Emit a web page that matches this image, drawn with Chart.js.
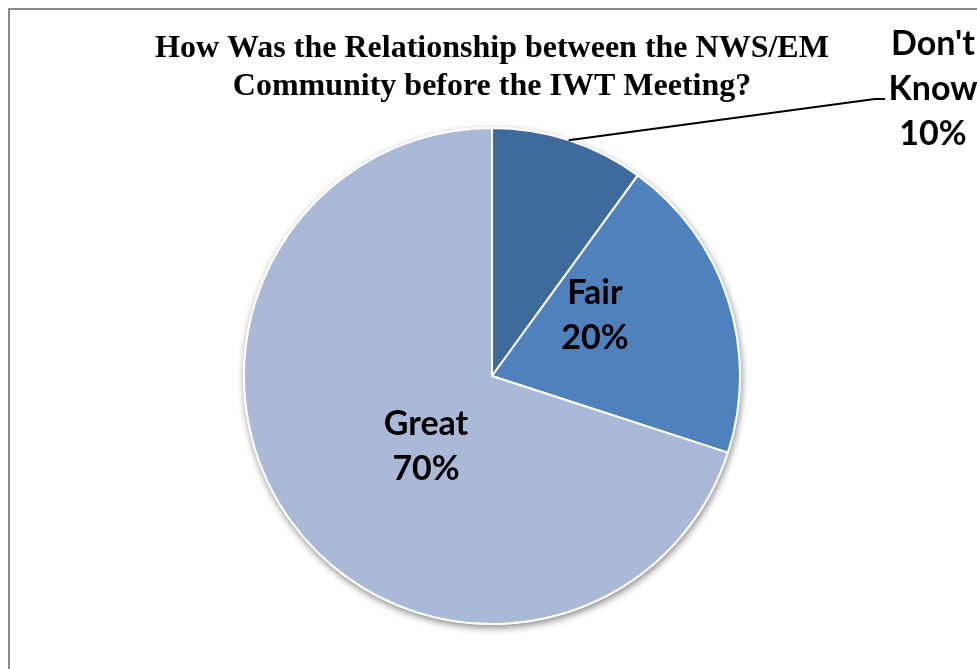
<!DOCTYPE html>
<html>
<head>
<meta charset="utf-8">
<title>Relationship before the IWT Meeting</title>
<script src="https://cdn.jsdelivr.net/npm/chart.js@4/dist/chart.umd.min.js"></script>
<style>
  html, body { margin: 0; padding: 0; background: #fff; overflow: hidden; }
  #wrap { position: relative; width: 977px; height: 669px; }
  #frame {
    position: absolute; left: 8px; top: 8px; width: 1000px; height: 700px;
    border-left: 2px solid #8a8a8a; border-top: 2px solid #8a8a8a;
    pointer-events: none;
  }
</style>
</head>
<body>
<div id="wrap">
  <canvas id="graficoRelacao" width="977" height="669"></canvas>
  <div id="frame"></div>
</div>
<script>
const categorias = ["Don't Know", 'Fair', 'Great'];
const percentuais = [10, 20, 70];
const cores = ['#3f6a9c', '#4f81bd', '#a9b9d7'];
const tituloLinhas = ['How Was the Relationship between the NWS/EM', 'Community before the IWT Meeting?'];

// where each label sits, as offsets from the pie centre in units of its radius
const posicaoRotulos = [
  { dx: 1.778, dy: -1.157, leader: [{ dx: 1.544, dy: -1.117 }, { dx: 1.585, dy: -1.117 }] },
  { dx: 0.415, dy: -0.242 },
  { dx: -0.266, dy: 0.284 }
];

// soft drop shadow under the whole pie
const sombraPizza = {
  id: 'sombraPizza',
  beforeDatasetsDraw(chart) {
    const arc = chart.getDatasetMeta(0).data[0];
    if (!arc) return;
    const { x, y, outerRadius } = arc.getProps(['x', 'y', 'outerRadius'], true);
    const ctx = chart.ctx;
    ctx.save();
    ctx.shadowColor = 'rgba(0,0,0,0.45)';
    ctx.shadowBlur = 7;
    ctx.shadowOffsetX = 1;
    ctx.shadowOffsetY = 3;
    ctx.fillStyle = '#ffffff';
    ctx.beginPath();
    ctx.arc(x, y, outerRadius + 1, 0, Math.PI * 2);
    ctx.fill();
    ctx.restore();
  }
};

// category + percent labels, with a leader line for the outside one
const rotulosPizza = {
  id: 'rotulosPizza',
  afterDatasetsDraw(chart) {
    const meta = chart.getDatasetMeta(0);
    const ctx = chart.ctx;
    const dados = chart.data.datasets[0].data;
    const total = dados.reduce((a, b) => a + b, 0);
    const lineH = 45;
    ctx.save();
    ctx.font = 'bold 34px Lato, "Open Sans", sans-serif';
    ctx.fillStyle = '#000';
    ctx.textAlign = 'center';
    ctx.textBaseline = 'middle';
    meta.data.forEach((arc, i) => {
      const p = arc.getProps(['x', 'y', 'outerRadius', 'startAngle', 'endAngle'], true);
      const r = p.outerRadius;
      const pos = posicaoRotulos[i];
      const cx = p.x + pos.dx * r;
      const cy = p.y + pos.dy * r;
      if (pos.leader) {
        const mid = (p.startAngle + p.endAngle) / 2;
        ctx.beginPath();
        ctx.moveTo(p.x + Math.cos(mid) * r, p.y + Math.sin(mid) * r);
        pos.leader.forEach(pt => ctx.lineTo(p.x + pt.dx * r, p.y + pt.dy * r));
        ctx.strokeStyle = '#000';
        ctx.lineWidth = 2;
        ctx.stroke();
      }
      const linhas = chart.data.labels[i].split(' ');
      linhas.push(Math.round(dados[i] / total * 100) + '%');
      const y0 = cy - (linhas.length - 1) * lineH / 2;
      linhas.forEach((t, k) => ctx.fillText(t, cx, y0 + k * lineH));
    });
    ctx.restore();
  }
};

new Chart(document.getElementById('graficoRelacao'), {
  type: 'pie',
  data: {
    labels: categorias,
    datasets: [{
      data: percentuais,
      backgroundColor: cores,
      borderColor: '#ffffff',
      borderWidth: 2
    }]
  },
  options: {
    responsive: false,
    animation: false,
    radius: 248,
    layout: { padding: { left: 20, right: 13, top: 0, bottom: 23 } },
    plugins: {
      legend: { display: false },
      tooltip: { enabled: false },
      title: {
        display: true,
        text: tituloLinhas,
        color: '#000',
        font: { family: '"Liberation Serif", "Times New Roman", serif', size: 32, weight: 'bold', lineHeight: '38px' },
        padding: { top: 30, bottom: 0 }
      }
    }
  },
  plugins: [sombraPizza, rotulosPizza]
});
</script>
</body>
</html>
